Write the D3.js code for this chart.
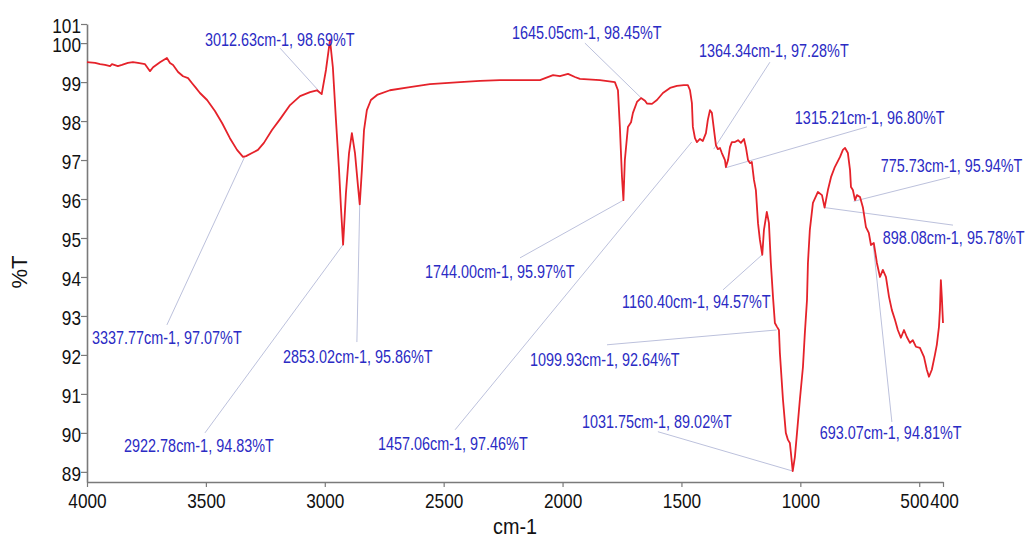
<!DOCTYPE html>
<html>
<head>
<meta charset="utf-8">
<script src="https://cdn.jsdelivr.net/npm/d3@7"></script>
<style>
  body { margin: 0; background: #fff; }
  text { font-family: "Liberation Sans", Arial, sans-serif; }
</style>
</head>
<body>
<div id="chart"></div>
<script>
// spectrum: [wavenumber cm-1, %T]
const spectrum = [
    [4000, 99.51], [3966, 99.49], [3945, 99.46], [3924, 99.44], [3903, 99.41], [3895, 99.46],
    [3870, 99.41], [3853, 99.44], [3828, 99.49], [3807, 99.51], [3786, 99.49], [3756, 99.46],
    [3735, 99.28], [3722, 99.38], [3693, 99.51], [3664, 99.62], [3651, 99.49], [3638, 99.44],
    [3617, 99.26], [3596, 99.15], [3575, 99.10], [3558, 98.97], [3542, 98.85], [3525, 98.72],
    [3495, 98.54], [3462, 98.26], [3432, 97.95], [3399, 97.56], [3369, 97.26], [3344, 97.08],
    [3331, 97.10], [3306, 97.18], [3281, 97.26], [3256, 97.44], [3222, 97.77], [3188, 98.05],
    [3146, 98.41], [3104, 98.64], [3062, 98.74], [3033, 98.79], [3013, 98.69], [2995, 99.31],
    [2978, 100.08], [2966, 99.38], [2953, 98.03], [2940, 96.74], [2932, 95.79], [2923, 94.83],
    [2911, 96.15], [2898, 97.18], [2886, 97.69], [2873, 97.18], [2860, 96.31], [2853, 95.86],
    [2844, 96.74], [2835, 97.77], [2823, 98.28], [2806, 98.54], [2780, 98.67], [2726, 98.79],
    [2642, 98.87], [2558, 98.95], [2431, 99.00], [2347, 99.03], [2263, 99.05], [2095, 99.05],
    [2040, 99.18], [2011, 99.15], [1977, 99.21], [1948, 99.13], [1927, 99.08], [1843, 99.05],
    [1780, 99.00], [1767, 98.79], [1759, 97.85], [1750, 96.56], [1744, 95.97], [1738, 97.00],
    [1725, 97.85], [1712, 97.97], [1704, 98.21], [1687, 98.49], [1670, 98.59], [1653, 98.52],
    [1645, 98.45], [1624, 98.44], [1603, 98.54], [1578, 98.72], [1548, 98.85], [1519, 98.90],
    [1490, 98.92], [1473, 98.92], [1464, 98.79], [1456, 98.46], [1452, 97.85], [1443, 97.56],
    [1435, 97.46], [1422, 97.54], [1410, 97.49], [1397, 97.69], [1389, 98.03], [1380, 98.28],
    [1372, 98.21], [1363, 97.77], [1355, 97.38], [1347, 97.28], [1338, 97.31], [1330, 97.18],
    [1317, 97.00], [1313, 96.82], [1304, 97.00], [1296, 97.33], [1288, 97.46], [1275, 97.46],
    [1262, 97.51], [1250, 97.44], [1237, 97.54], [1229, 97.33], [1220, 97.00], [1212, 96.92],
    [1204, 96.95], [1195, 96.49], [1187, 96.23], [1178, 95.38], [1170, 94.95], [1160, 94.57],
    [1153, 95.21], [1141, 95.67], [1132, 95.38], [1124, 94.36], [1115, 93.49], [1107, 92.82],
    [1098, 92.72], [1090, 92.64], [1086, 92.05], [1073, 90.85], [1061, 90.00], [1052, 89.82],
    [1044, 89.74], [1040, 89.51], [1032, 89.02], [1023, 89.38], [1014, 90.00], [1002, 90.85],
    [989, 91.69], [981, 92.56], [972, 93.41], [968, 94.36], [960, 95.21], [947, 95.90],
    [926, 96.18], [909, 96.10], [898, 95.78], [884, 96.23], [871, 96.56], [855, 96.82],
    [833, 97.08], [821, 97.26], [812, 97.31], [800, 97.18], [791, 96.74], [787, 96.31],
    [779, 96.23], [770, 95.97], [762, 96.10], [749, 96.05], [737, 95.79], [724, 95.28],
    [712, 95.13], [703, 94.82], [691, 94.87], [678, 94.36], [665, 94.00], [653, 94.18],
    [640, 94.00], [627, 93.49], [615, 93.15], [602, 92.90], [590, 92.64], [577, 92.44],
    [564, 92.64], [552, 92.46], [539, 92.31], [527, 92.38], [514, 92.21], [497, 92.18],
    [480, 91.95], [468, 91.62], [459, 91.44], [447, 91.62], [434, 92.00], [426, 92.26],
    [417, 92.72], [413, 93.15], [409, 93.92], [405, 93.49], [400, 92.82]
];

// labelled peaks
const peakWn = [3012.63, 3337.77, 2922.78, 2853.02, 1645.05, 1744.00, 1364.34, 1457.06,
                1315.21, 775.73, 898.08, 1160.40, 1099.93, 1031.75, 693.07];
const peakT  = [98.69, 97.07, 94.83, 95.86, 98.45, 95.97, 97.28, 97.46,
                96.80, 95.94, 95.78, 94.57, 92.64, 89.02, 94.81];

// where each label sits (data units) and where its leader line starts
const labelAt = [[3504, 100.08], [3979, 92.44], [3844, 89.67], [3176, 91.95], [2213, 100.28],
                 [2579, 94.13], [1426, 99.82], [2776, 89.74], [1023, 98.10], [662, 96.85],
                 [653, 95.00], [1750, 93.38], [2137, 91.87], [1918, 90.28], [918, 90.00]];
const leaderAt = [[3188, 99.87], [3664, 92.77], [3504, 90.00], [2865, 92.33], [1906, 100.0],
                  [2179, 94.49], [1128, 99.51], [2452, 90.08], [720, 97.85], [371, 96.56],
                  [358, 95.33], [1325, 93.67], [1813, 92.26], [1599, 90.03], [615, 90.28]];

const xTicks = [4000, 3500, 3000, 2500, 2000, 1500, 1000, 500, 400];
const yTicks = [89, 90, 91, 92, 93, 94, 95, 96, 97, 98, 99, 100];
const yTop = 100.49; // axis end, printed as "101"

const width = 1029, height = 538;

const svg = d3.select("#chart").append("svg")
    .attr("width", width)
    .attr("height", height)
    .style("background", "#fff");

const x = d3.scaleLinear().domain([4000, 400]).range([87, 943]);
const y = d3.scaleLinear().domain([88.74, yTop]).range([482, 24]);

// squeeze text horizontally, the picture is narrower than plain Arial
function squeeze(sel, k) {
    sel.each(function () {
        const len = this.getComputedTextLength();
        d3.select(this)
            .attr("textLength", len * k)
            .attr("lengthAdjust", "spacingAndGlyphs");
    });
}

// axes
const xAxis = svg.append("g")
    .attr("transform", `translate(0, ${y(88.74)})`)
    .call(d3.axisBottom(x).tickValues(xTicks).tickSize(5).tickSizeOuter(0).tickFormat(d3.format("d")));

const yAxis = svg.append("g")
    .attr("transform", `translate(${x(4000)}, 0)`)
    .call(d3.axisLeft(y).tickValues(yTicks.concat([yTop])).tickSize(6).tickSizeOuter(0)
        .tickFormat(d => d > 100.2 ? "101" : d));

[xAxis, yAxis].forEach(g => {
    g.select(".domain").attr("stroke", "#7a7a7a").attr("stroke-width", 1.6);
    g.selectAll(".tick line").attr("stroke", "#7a7a7a").attr("stroke-width", 1.2);
    g.selectAll(".tick text")
        .attr("fill", "#111")
        .style("font-size", "21px")
        .style("font-family", "'Liberation Sans', Arial, sans-serif");
});
xAxis.selectAll(".tick text").attr("y", 11)
    .attr("dx", d => d === 500 ? -5 : (d === 400 ? 1 : 0));
yAxis.selectAll(".tick text").attr("x", -6).attr("dy", "0.4em");
squeeze(xAxis.selectAll(".tick text"), 0.82);
squeeze(yAxis.selectAll(".tick text"), 0.82);

// axis titles
const xTitle = svg.append("text")
    .attr("x", 515)
    .attr("y", 534)
    .attr("text-anchor", "middle")
    .attr("fill", "#111")
    .style("font-size", "22px")
    .text("cm-1");
squeeze(xTitle, 0.9);

svg.append("text")
    .attr("transform", `translate(27, 272) rotate(-90)`)
    .attr("text-anchor", "middle")
    .attr("fill", "#111")
    .style("font-size", "22px")
    .text("%T");

// leader lines
const peaks = peakWn.map((w, i) => ({ w: w, t: peakT[i], label: labelAt[i], from: leaderAt[i] }));

svg.append("g")
    .selectAll("line")
    .data(peaks)
    .enter()
    .append("line")
    .attr("x1", d => x(d.from[0]))
    .attr("y1", d => y(d.from[1]))
    .attr("x2", d => x(d.w))
    .attr("y2", d => y(d.t))
    .attr("stroke", "#bcc1dc")
    .attr("stroke-width", 1);

// spectrum
const line = d3.line()
    .x(d => x(d[0]))
    .y(d => y(d[1]));

svg.append("path")
    .datum(spectrum)
    .attr("d", line)
    .attr("fill", "none")
    .attr("stroke", "#e5222a")
    .attr("stroke-width", 1.8)
    .attr("stroke-linejoin", "round");

// peak labels
const labels = svg.append("g")
    .selectAll("text")
    .data(peaks)
    .enter()
    .append("text")
    .attr("x", d => x(d.label[0]))
    .attr("y", d => y(d.label[1]))
    .attr("dy", "0.36em")
    .attr("fill", "#2b2bc4")
    .style("font-size", "18px")
    .text(d => `${d.w.toFixed(2)}cm-1, ${d.t.toFixed(2)}%T`);
squeeze(labels, 0.8);
</script>
</body>
</html>
